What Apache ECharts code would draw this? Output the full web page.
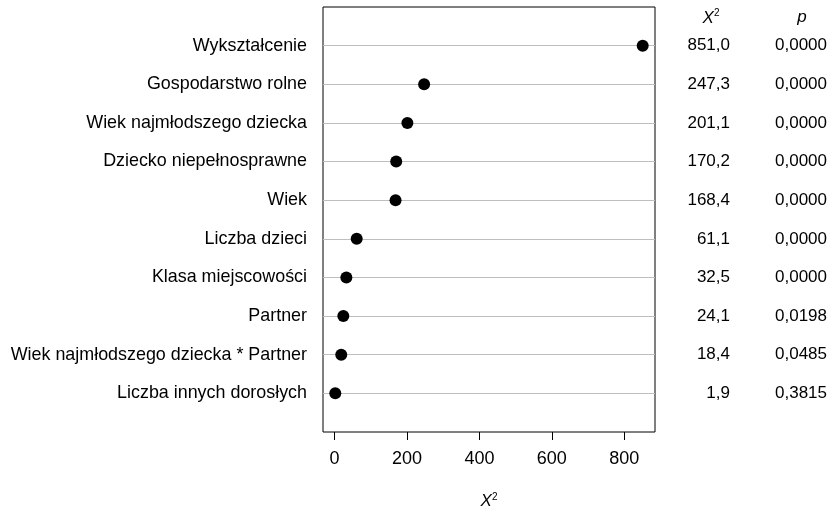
<!DOCTYPE html>
<html><head><meta charset="utf-8">
<script src="https://cdn.jsdelivr.net/npm/echarts@6/dist/echarts.min.js"></script>
<style>html,body{margin:0;padding:0;background:#fff}#c{width:832px;height:518px}</style>
</head><body><div id="c"></div>
<script>
const categories = ["Wykształcenie","Gospodarstwo rolne","Wiek najmłodszego dziecka","Dziecko niepełnosprawne","Wiek","Liczba dzieci","Klasa miejscowości","Partner","Wiek najmłodszego dziecka * Partner","Liczba innych dorosłych"];
const chiValues = [851.0,247.3,201.1,170.2,168.4,61.1,32.5,24.1,18.4,1.9];
const pValues = [0.0000,0.0000,0.0000,0.0000,0.0000,0.0000,0.0000,0.0198,0.0485,0.3815];
const xTicks = [0,200,400,600,800];

const rows = categories.map((c,i)=>i+1);
const fmt = (v,d)=>v.toFixed(d).replace('.',',');
const FONT = 'Liberation Sans, Arial, sans-serif';
const FS = 17;
const chart = echarts.init(document.getElementById('c'));
const yLabel = (fn, margin, fs) => ({
  type:'value', min:0, max:11, inverse:true,
  axisLine:{show:false}, axisTick:{show:false}, splitLine:{show:false},
  axisLabel:{show:true, customValues:rows, margin:margin, align:'right',
    color:'#000', fontSize:fs, fontFamily:FONT,
    formatter:(v)=>fn(Math.round(v)-1)}
});
const y0 = yLabel(i=>categories[i], 16, 17.9); y0.position='left';
const y1 = yLabel(i=>fmt(chiValues[i],1), 75, FS); y1.position='right';
const y2 = yLabel(i=>fmt(pValues[i],4), 172, FS); y2.position='right';
chart.setOption({
  animation:false,
  grid:{left:323,right:177,top:7,bottom:86,show:true,borderColor:'#000',borderWidth:1,backgroundColor:'transparent',outerBoundsMode:'none',containLabel:false},
  xAxis:{type:'value', min:-32, max:885, position:'bottom',
    name:'{i|X}{s|2}', nameLocation:'middle', nameGap:60,
    nameTextStyle:{rich:{i:{fontStyle:'italic',fontSize:FS,fontFamily:FONT,color:'#000'},s:{fontSize:10,verticalAlign:'top',fontFamily:FONT,color:'#000',padding:[0,0,9,0]}}},
    axisLine:{show:false, onZero:false}, splitLine:{show:false},
    axisTick:{show:true, customValues:xTicks, length:8, inside:false, lineStyle:{color:'#000',width:1}},
    axisLabel:{customValues:xTicks, margin:27, color:'#000', fontSize:18, fontFamily:FONT, verticalAlign:'middle'}
  },
  yAxis:[y0,y1,y2],
  graphic:[
    {type:'text', x:711, y:18, style:{rich:{i:{fontStyle:'italic',fontSize:FS,fontFamily:FONT,fill:'#000'},s:{fontSize:10,fontFamily:FONT,fill:'#000',verticalAlign:'top',padding:[0,0,9,0]}}, text:'{i|X}{s|2}', align:'center', verticalAlign:'middle'}},
    {type:'text', x:802, y:17, style:{text:'p', fontStyle:'italic', fontSize:FS, fontFamily:FONT, fill:'#000', align:'center', verticalAlign:'middle'}}
  ],
  series:[{
    type:'scatter', yAxisIndex:0, symbol:'circle', symbolSize:12,
    itemStyle:{color:'#000', opacity:1},
    data: chiValues.map((v,i)=>[v, rows[i]]),
    markLine:{silent:true, symbol:['none','none'], label:{show:false},
      lineStyle:{color:'#bebebe', type:'solid', width:1},
      data: rows.map(r=>({yAxis:r}))},
    z:5
  }]
});
</script></body></html>
